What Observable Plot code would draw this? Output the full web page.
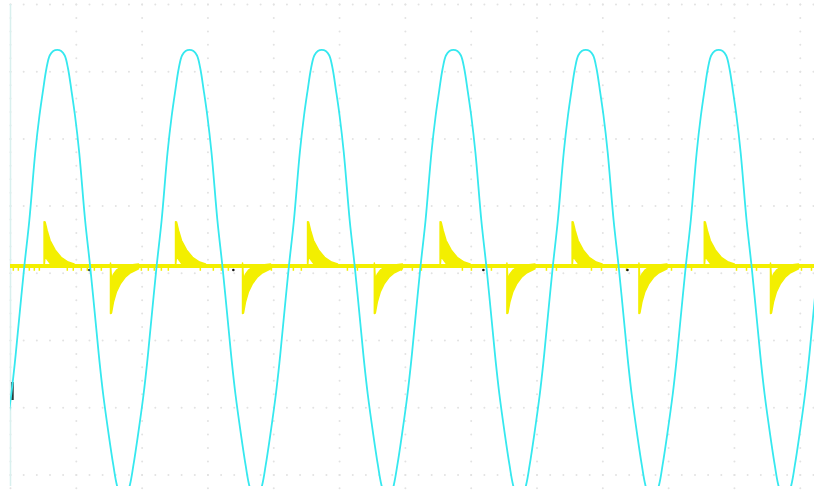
<!DOCTYPE html>
<html>
<head>
<meta charset="utf-8">
<script src="https://cdn.jsdelivr.net/npm/d3@7"></script>
<script src="https://cdn.jsdelivr.net/npm/@observablehq/plot@0.6"></script>
<style>
  html, body { margin: 0; padding: 0; background: #fff; overflow: hidden; }
</style>
</head>
<body>
<div id="chart"></div>
<script>
// Units: time and amplitude both in screen divisions (oscilloscope capture)
const xMajor = [0, 1, 2, 3, 4, 5, 6, 7, 8, 9, 10, 11, 12];
const yMajor = [-3, -2, -1, 0, 1, 2, 3, 4];
const minorPerDiv = 5;

// Channel 2 (cyan): peak times read from the capture
const cyanPeaks = [0.71, 2.72, 4.73, 6.73, 8.74, 10.76, 12.77];
// one half-cycle of the cyan trace as read: offset from peak -> level
const cyanShapeOffset = [0, 0.06, 0.114, 0.164, 0.216, 0.27, 0.334, 0.424, 0.502, 0.596, 0.645, 0.698, 0.782, 0.853, 0.906, 1.005];
const cyanShapeValue  = [3.326, 3.308, 3.241, 3.048, 2.72, 2.348, 1.798, 0.786, 0.086, -0.851, -1.342, -1.8, -2.4, -2.86, -3.15, -3.45];

// Channel 1 (yellow): baseline level, spike start times, spike envelopes
const yellowBaseline = 0.11;
const yellowPosStarts = [0.518, 2.515, 4.521, 6.535, 8.541, 10.549];
const yellowNegStarts = [1.527, 3.533, 5.536, 7.55, 9.556, 11.555];
const posOffset = [0, 0.015, 0.046, 0.091, 0.167, 0.258, 0.365, 0.456];
const posHi     = [0.76, 0.756, 0.63, 0.48, 0.34, 0.23, 0.16, 0.13];
const posLo     = [0.086, 0.25, 0.2, 0.14, 0.1, 0.09, 0.086, 0.086];
const negOffset = [0, 0.015, 0.046, 0.091, 0.152, 0.228, 0.304, 0.426];
const negHi     = [0.146, -0.1, -0.02, 0.04, 0.08, 0.1, 0.116, 0.131];
const negLo     = [-0.606, -0.598, -0.43, -0.28, -0.16, -0.06, 0.0, 0.06];
const baselineDips = [0.043, 0.119, 0.286, 0.362, 0.438, 0.863, 0.954, 1.076, 1.167, 1.274, 1.38, 1.836, 1.988, 2.094, 2.185, 2.292, 2.398, 2.884, 3.082, 3.204, 3.31, 3.857, 3.964, 4.298, 4.419, 5.119, 5.271, 5.939, 6.106, 6.243, 6.866, 7.003, 7.307, 7.915, 8.143, 8.295, 8.827, 8.979, 9.207, 9.359, 9.906, 10.043, 10.347, 11.031, 11.183, 11.335, 11.867, 12.018, 12.17];
const dipLevel = 0.03;
const darkDotTimes = [1.199, 3.386, 7.185, 9.374];
const darkDotLevel = 0.05;
// channel ground marker on the left edge
const markerT = [0.03];
const markerTop = -1.625;
const markerBottom = -1.893;

// ---- build tables ----
const cyan = [];
const nOff = cyanShapeOffset.length;
cyanPeaks.forEach((p, i) => {
  for (let j = nOff - 1; j >= 1; j--) {
    if (i > 0 && j === nOff - 1) continue;
    cyan.push({t: p - cyanShapeOffset[j], v: cyanShapeValue[j]});
  }
  cyan.push({t: p, v: cyanShapeValue[0]});
  for (let j = 1; j < nOff; j++) cyan.push({t: p + cyanShapeOffset[j], v: cyanShapeValue[j]});
});

const spikes = [];
yellowPosStarts.forEach((s, i) => posOffset.forEach((o, j) => spikes.push({id: "p" + i, t: s + o, hi: posHi[j], lo: posLo[j]})));
yellowNegStarts.forEach((s, i) => negOffset.forEach((o, j) => spikes.push({id: "n" + i, t: s + o, hi: negHi[j], lo: negLo[j]})));

const grid = [];
const tMax = 12.2;
for (const t of xMajor) {
  for (let k = yMajor[0] * minorPerDiv - 1; k <= yMajor[yMajor.length - 1] * minorPerDiv; k++) grid.push({t, v: k / minorPerDiv});
}
for (const v of yMajor) {
  for (let k = 0; k <= tMax * minorPerDiv; k++) grid.push({t: k / minorPerDiv, v});
}

const CYAN = "#36e8ef";
const YELLOW = "#f3ef00";

const chart = Plot.plot({
  width: 814,
  height: 492,
  marginTop: 4,
  marginBottom: 6,
  marginLeft: 10,
  marginRight: 0,
  style: {background: "#fff"},
  x: {domain: [0, 12.216], axis: null},
  y: {domain: [-3.173, 4], axis: null},
  marks: [
    Plot.dot(grid, {x: "t", y: "v", r: 1, fill: "#e2e2e2", stroke: null}),
    Plot.ruleX([0], {stroke: "#d8f0ee", strokeWidth: 1.5}),
    Plot.ruleX(markerT, {x: d => d, y1: markerTop, y2: markerBottom, stroke: "#2b3a3a", strokeWidth: 2.5}),
    Plot.ruleY([yellowBaseline], {stroke: YELLOW, strokeWidth: 4}),
    Plot.ruleX(baselineDips, {x: d => d, y1: yellowBaseline, y2: dipLevel, stroke: YELLOW, strokeWidth: 1.5}),
    Plot.areaY(spikes, {x: "t", y1: "lo", y2: "hi", z: "id", fill: YELLOW, stroke: YELLOW, strokeWidth: 1.5, curve: "linear"}),
    Plot.dot(darkDotTimes, {x: d => d, y: darkDotLevel, r: 1.3, fill: "#1a1a1a", stroke: null}),
    Plot.line(cyan, {x: "t", y: "v", stroke: CYAN, strokeWidth: 1.8, curve: "catmull-rom", clip: true})
  ]
});
document.getElementById("chart").appendChild(chart);
</script>
</body>
</html>
